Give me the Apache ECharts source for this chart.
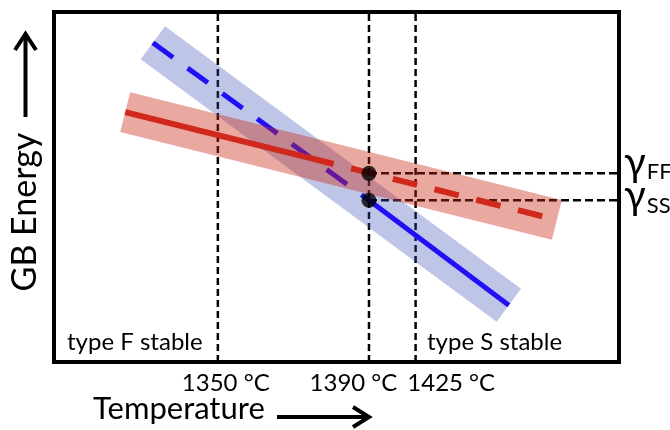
<!DOCTYPE html>
<html>
<head>
<meta charset="utf-8">
<script src="https://cdn.jsdelivr.net/npm/echarts@6/dist/echarts.min.js"></script>
<style>
  html, body { margin: 0; padding: 0; background: #fff; }
  #main { width: 670px; height: 430px; }
</style>
</head>
<body>
<div id="main"></div>
<script>
// schematic: both axes run 0..100 across the frame
var tempLabels = ['1350 °C', '1390 °C', '1425 °C'];
var tempX = [29.0, 55.75, 64.0];        // where the dashed verticals sit
var tempLabelX = [30.4, 53.0, 70.3];    // where their labels sit

// type S boundary (blue): dashed up to 1390, solid after
var sX = [17.5, 55.75, 80.5];
var sY = [91.2, 46.2, 16.2];
// type F boundary (red): solid up to the crossing, dashed after
var fX = [12.6, 45.2, 89.0];
var fY = [71.4, 58.3, 40.6];

var gammaNames = ['FF', 'SS'];
var gammaY = [53.9, 46.2];
var gammaLabelY = [56.9, 47.3];

var FONT = 'Lato';

function seg(xs, ys, a, b) {
  var out = [];
  for (var i = a; i <= b; i++) out.push([xs[i], ys[i]]);
  return out;
}

function plain(data, color, width, type, z) {
  return {
    type: 'line',
    data: data,
    symbol: 'none',
    silent: true,
    z: z,
    lineStyle: { color: color, width: width, type: type, cap: 'butt' }
  };
}

var series = [];
tempX.forEach(function (x) {
  series.push(plain([[x, 0], [x, 100]], '#000', 2.5, [7, 4], 1));
});
gammaY.forEach(function (y) {
  series.push(plain([[tempX[1], y], [100, y]], '#000', 2.5, [8, 4], 1));
});
// bands
series.push(plain([[sX[0], sY[0]], [sX[2], sY[2]]], 'rgba(60,80,180,0.33)', 41, 'solid', 2));
series.push(plain(seg(sX, sY, 0, 1), '#1f10f5', 5, [25, 18], 3));
series.push(plain(seg(sX, sY, 1, 2), '#1f10f5', 5, 'solid', 3));
series.push(plain([[fX[0], fY[0]], [fX[2], fY[2]]], 'rgba(200,40,20,0.4)', 41, 'solid', 4));
series.push(plain(seg(fX, fY, 0, 1), '#d0281c', 6, 'solid', 5));
series.push(plain(seg(fX, fY, 1, 2), '#d0281c', 6, [25, 18], 5));
series.push({
  type: 'scatter',
  data: gammaY.map(function (y) { return [tempX[1], y]; }),
  symbolSize: 15,
  itemStyle: { color: '#000' },
  silent: true,
  z: 6
});

var graphics = [
  { type: 'text', x: 67, y: 342, silent: true,
    style: { text: 'type F stable', font: '24px ' + FONT, fill: '#000', verticalAlign: 'middle' } },
  { type: 'text', x: 427, y: 342, silent: true,
    style: { text: 'type S stable', font: '24px ' + FONT, fill: '#000', verticalAlign: 'middle' } },
  { type: 'text', x: 93, y: 409, silent: true,
    style: { text: 'Temperature', font: '31px ' + FONT, fill: '#000', verticalAlign: 'middle' } },
  { type: 'text', x: 25, y: 212, rotation: Math.PI / 2, silent: true,
    style: { text: 'GB Energy', font: '34px ' + FONT, fill: '#000', align: 'center', verticalAlign: 'middle' } },
  { type: 'polyline', silent: true, shape: { points: [[277, 417], [368, 417]] },
    style: { stroke: '#000', lineWidth: 4, fill: null } },
  { type: 'polyline', silent: true, shape: { points: [[353, 407], [369, 417], [353, 427]] },
    style: { stroke: '#000', lineWidth: 4, fill: null } },
  { type: 'polyline', silent: true, shape: { points: [[25.5, 117], [25.5, 35]] },
    style: { stroke: '#000', lineWidth: 4, fill: null } },
  { type: 'polyline', silent: true, shape: { points: [[15, 50], [25.5, 34], [36, 50]] },
    style: { stroke: '#000', lineWidth: 4, fill: null } }
];

var chart = echarts.init(document.getElementById('main'));
chart.setOption({
  animation: false,
  backgroundColor: '#fff',
  grid: {
    left: 54, right: 51, top: 12, bottom: 68,
    outerBoundsMode: 'none',
    show: true, borderColor: '#000', borderWidth: 4
  },
  xAxis: {
    type: 'value', min: 0, max: 100,
    axisLine: { show: false }, axisTick: { show: false }, splitLine: { show: false },
    axisLabel: {
      customValues: tempLabelX,
      formatter: function (v) { return tempLabels[tempLabelX.indexOf(v)]; },
      hideOverlap: false,
      margin: 9, fontSize: 24, fontFamily: FONT, color: '#000'
    }
  },
  yAxis: {
    type: 'value', min: 0, max: 100,
    axisLine: { show: false }, axisTick: { show: false }, splitLine: { show: false },
    axisLabel: { show: false }
  },
  series: series
});

// gamma labels just outside the right edge of the frame
gammaNames.forEach(function (n, i) {
  var p = chart.convertToPixel({ gridIndex: 0 }, [100, gammaLabelY[i]]);
  graphics.push({
    type: 'text', x: p[0] + 5, y: p[1], silent: true,
    style: {
      text: '{g|γ}{s|' + n + '}',
      verticalAlign: 'middle',
      rich: {
        g: { fontSize: 40, fontFamily: FONT, fill: '#000', verticalAlign: 'bottom' },
        s: { fontSize: 22, fontFamily: FONT, fill: '#000', verticalAlign: 'bottom', padding: [0, 0, 0, 1] }
      }
    }
  });
});
chart.setOption({ graphic: graphics });
</script>
</body>
</html>
